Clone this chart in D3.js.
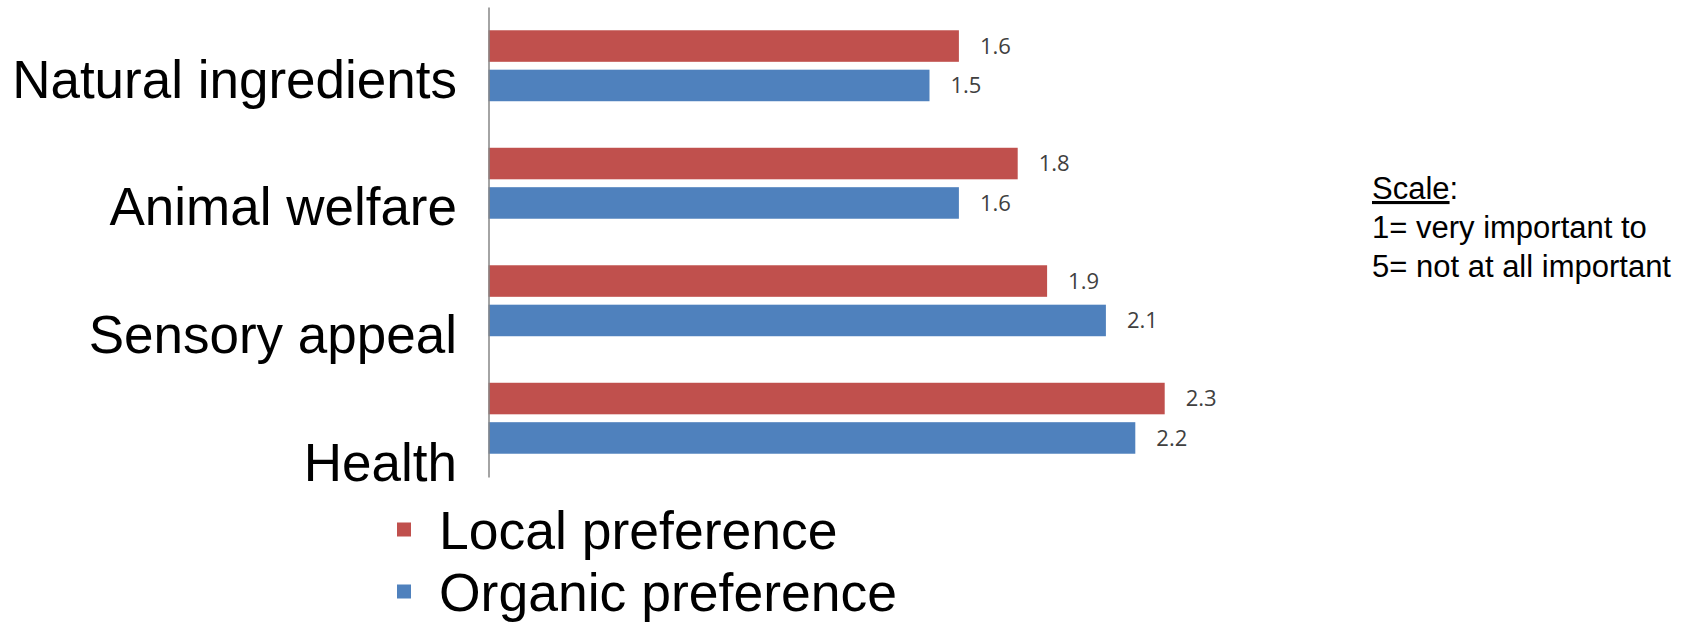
<!DOCTYPE html>
<html>
<head>
<meta charset="utf-8">
<script src="https://cdn.jsdelivr.net/npm/d3@7"></script>
<style>
  html, body { margin: 0; padding: 0; background: #ffffff; }
  svg { display: block; }
</style>
</head>
<body>
<svg id="chart" width="1696" height="622"></svg>
<script>
// Categories, listed top to bottom
const categories = ["Natural ingredients", "Animal welfare", "Sensory appeal", "Health"];
// Series
const seriesNames = ["Local preference", "Organic preference"];
const localValues = [1.6, 1.8, 1.9, 2.3];
const organicValues = [1.5, 1.6, 2.1, 2.2];
const seriesColors = ["#C0504D", "#4F81BD"];
// Side note explaining the rating scale
const scaleNote = ["Scale", "1= very important to", "5= not at all important"];

const seriesValues = [localValues, organicValues];
const rows = categories.map((c, i) => ({
  category: c,
  bars: seriesNames.map((s, j) => ({ series: s, value: seriesValues[j][i], color: seriesColors[j] }))
}));

const svg = d3.select("#chart");
const axisX = 488.5;

// Value scale (horizontal)
const x = d3.scaleLinear().domain([0, 2.5]).range([axisX, axisX + 735]);

// Category bands (vertical) and series sub-bands inside each band
const y0 = d3.scaleBand().domain(categories).range([7, 477]).paddingInner(0.396).paddingOuter(0.198);
const y1 = d3.scaleBand().domain(seriesNames).range([0, y0.bandwidth()]).paddingInner(0.2).paddingOuter(0);

// Category labels sit on their own evenly spaced baselines
const labelY = d3.scalePoint().domain(categories).range([97.7, 481]);

// Bars
const groups = svg.append("g").selectAll("g.row")
  .data(rows)
  .join("g")
  .attr("class", "row")
  .attr("transform", d => `translate(0,${y0(d.category)})`);

groups.selectAll("rect")
  .data(d => d.bars)
  .join("rect")
  .attr("x", x(0))
  .attr("y", d => y1(d.series))
  .attr("width", d => x(d.value) - x(0))
  .attr("height", y1.bandwidth())
  .attr("fill", d => d.color);

// Value labels
groups.selectAll("text.val")
  .data(d => d.bars)
  .join("text")
  .attr("class", "val")
  .attr("x", d => x(d.value) + 21)
  .attr("y", d => y1(d.series) + y1.bandwidth() / 2)
  .attr("dy", "0.36em")
  .attr("font-family", "'Open Sans', 'DejaVu Sans', sans-serif")
  .attr("font-size", 22)
  .attr("fill", "#404040")
  .text(d => d3.format(".1f")(d.value));

// Category axis line
const axis = d3.axisLeft(y0).tickSize(0).tickSizeOuter(0).tickFormat("");
const axisG = svg.append("g").attr("transform", `translate(${axisX},0)`).call(axis);
axisG.select(".domain").attr("stroke", "#868686").attr("stroke-width", 1.5);

// Category labels
svg.append("g").selectAll("text")
  .data(categories)
  .join("text")
  .attr("x", 457)
  .attr("y", d => labelY(d))
  .attr("text-anchor", "end")
  .attr("font-family", "'Liberation Sans', Arial, sans-serif")
  .attr("font-size", 53)
  .attr("fill", "#000000")
  .text(d => d);

// Legend
const legend = svg.append("g").selectAll("g")
  .data(seriesNames)
  .join("g")
  .attr("transform", (d, i) => `translate(0,${i * 62})`);

legend.append("rect")
  .attr("x", 397)
  .attr("y", 522.5)
  .attr("width", 14)
  .attr("height", 14)
  .attr("fill", (d, i) => seriesColors[i]);

legend.append("text")
  .attr("x", 439)
  .attr("y", 548.5)
  .attr("font-family", "'Liberation Sans', Arial, sans-serif")
  .attr("font-size", 53.5)
  .attr("fill", "#000000")
  .text(d => d);

// Scale note
const note = svg.append("g")
  .attr("font-family", "'Liberation Sans', Arial, sans-serif")
  .attr("font-size", 31)
  .attr("fill", "#000000");

const title = note.append("text").attr("x", 1372).attr("y", 199);
title.append("tspan").attr("text-decoration", "underline").style("text-decoration", "underline").text(scaleNote[0]);
title.append("tspan").text(":");

note.selectAll("text.line")
  .data(scaleNote.slice(1))
  .join("text")
  .attr("class", "line")
  .attr("x", 1372)
  .attr("y", (d, i) => 237.5 + i * 39.5)
  .text(d => d);
</script>
</body>
</html>
